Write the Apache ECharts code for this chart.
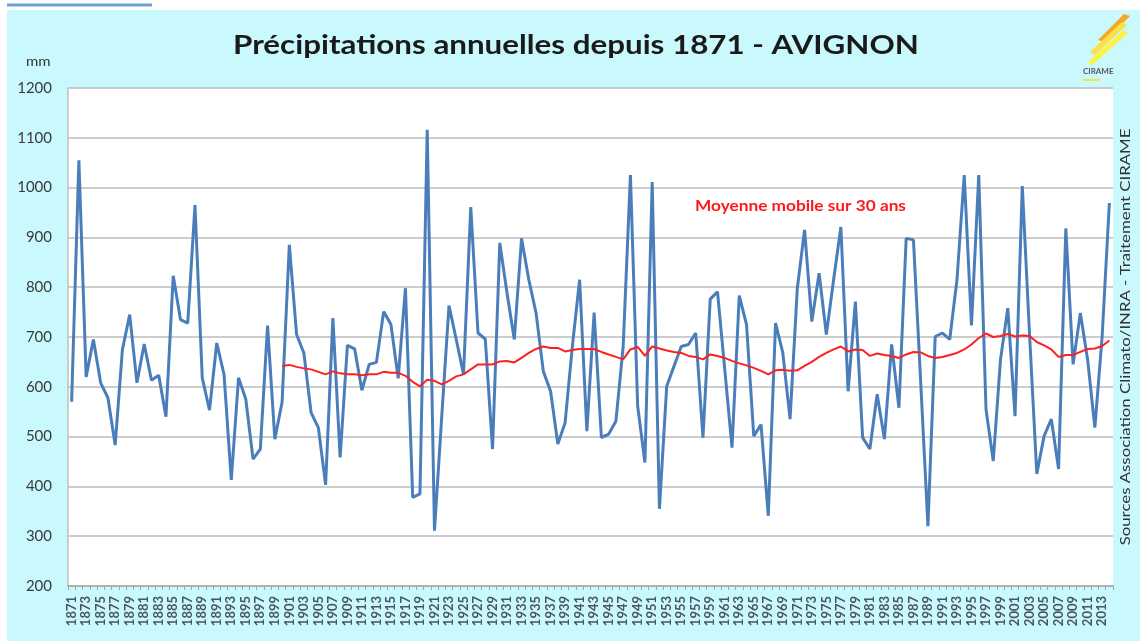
<!DOCTYPE html>
<html>
<head>
<meta charset="utf-8">
<title>Précipitations annuelles depuis 1871 - AVIGNON</title>
<script src="https://cdn.jsdelivr.net/npm/echarts@6/dist/echarts.min.js"></script>
<style>
  html, body { margin: 0; padding: 0; background: #fff; }
  #chart { width: 1140px; height: 641px; }
</style>
</head>
<body>
<div id="chart"></div>
<script>
// annual rainfall, Avignon, mm (1871 -> 2014)
const firstYear = 1871
const rainfall = [
  570, 1055, 620, 695, 608, 578, 483, 675, 745, 608,
  686, 613, 623, 540, 823, 735, 728, 965, 618, 553,
  688, 625, 413, 618, 575, 455, 475, 723, 495, 569,
  885, 705, 668, 548, 518, 403, 738, 458, 683, 676,
  593, 645, 649, 751, 725, 617, 798, 378, 385, 1116,
  311, 540, 763, 695, 625, 961, 708, 696, 475, 889,
  788, 695, 898, 815, 748, 631, 591, 485, 528, 681,
  815, 511, 749, 498, 505, 531, 680, 1025, 561, 448,
  1011, 355, 601, 641, 681, 685, 708, 498, 776, 791,
  635, 478, 783, 725, 501, 524, 341, 728, 668, 535,
  798, 915, 731, 828, 705, 815, 921, 591, 771, 498,
  475, 585, 495, 685, 558, 898, 895, 610, 320, 701,
  708, 695, 815, 1025, 723, 1025, 555, 451, 655, 758,
  541, 1003, 705, 425, 501, 535, 435, 918, 645, 748,
  655, 518, 700, 969
]
// 30-year moving average, starts in 1900
const movingAvgStart = 1900
const movingAvg = [
  642, 644, 640, 637, 635, 630, 625, 631, 627, 625,
  625, 623, 625, 625, 630, 628, 628, 622, 610, 601,
  614, 612, 605, 612, 621, 625, 635, 645, 645, 645,
  651, 652, 649, 658, 668, 676, 681, 678, 678, 671,
  674, 676, 676, 676, 670, 665, 660, 655, 675, 680,
  662, 681, 677, 673, 670, 668, 662, 660, 655, 665,
  662, 658, 652, 647, 643, 638, 632, 625, 633, 634,
  632, 633, 642, 650, 660, 668, 675, 681, 671, 675,
  674, 662, 667, 664, 662, 658, 665, 670, 669, 662,
  658, 660, 664, 668, 675, 685, 698, 707, 700, 702,
  706, 701, 703, 702, 690, 683, 675, 660, 664, 664,
  670, 676, 677, 682, 693
]
const yTicks = {min: 200, max: 1200, step: 100}

const years = rainfall.map((v, i) => String(firstYear + i))
const avgData = years.map(y => {
    const k = Number(y) - movingAvgStart
    return k >= 0 && k < movingAvg.length ? movingAvg[k] : null
})

const font = 'Lato, "Open Sans", sans-serif'
const myChart = echarts.init(document.getElementById('chart'))
const option = {
    backgroundColor: '#fff',
    animation: false,
    textStyle: {fontFamily: font},
    graphic: [
        {type: 'rect', z: -10, shape: {x: 7, y: 10, width: 1133, height: 631}, style: {fill: '#c9f9fd'}},
        {type: 'line', shape: {x1: 7, y1: 5, x2: 152, y2: 5}, style: {stroke: '#6c9fd6', lineWidth: 3}},
        {type: 'text', x: 233, y: 32, scaleX: 1.16, style: {text: 'Précipitations annuelles depuis 1871 - AVIGNON', font: 'bold 27px ' + font, fill: '#1a1a1a'}},
        {type: 'text', x: 26, y: 55, scaleX: 1.15, style: {text: 'mm', font: '13px ' + font, fill: '#333'}},
        {type: 'text', x: 695, y: 199, z: 20, scaleX: 1.15, style: {text: 'Moyenne mobile sur 30 ans', font: 'bold 15px ' + font, fill: '#ff1a1a'}},
        {type: 'text', x: 1125, y: 337, rotation: Math.PI / 2, scaleX: 1.2, style: {text: 'Sources Association Climato/INRA - Traitement CIRAME', font: '14px ' + font, fill: '#333', align: 'center', verticalAlign: 'middle'}},
        // CIRAME logo
        {type: 'polygon', shape: {points: [[1098, 40], [1124, 14], [1130, 16], [1104, 42]]}, style: {fill: '#f7a823'}},
        {type: 'polygon', shape: {points: [[1090, 52], [1122, 22], [1127, 25], [1095, 55]]}, style: {fill: '#fbe04a'}},
        {type: 'polygon', shape: {points: [[1088, 62], [1124, 30], [1128, 33], [1092, 65]]}, style: {fill: '#fff23f'}},
        {type: 'text', x: 1083, y: 67, style: {text: 'CIRAME', font: 'bold 8px ' + font, fill: '#555'}},
        {type: 'line', shape: {x1: 1083, y1: 80, x2: 1100, y2: 80}, style: {stroke: '#f2e640', lineWidth: 2}}
    ],
    grid: {
        left: 68,
        right: 27,
        top: 88,
        bottom: 55,
        show: true,
        backgroundColor: '#fff',
        borderWidth: 0
    },
    xAxis: {
        type: 'category',
        boundaryGap: true,
        data: years,
        axisLine: {lineStyle: {color: '#a6a6a6', width: 1.5}},
        axisTick: {show: true, interval: 0, length: 4, lineStyle: {color: '#a6a6a6'}},
        axisLabel: {
            interval: 1,
            rotate: 90,
            fontSize: 13,
            fontWeight: 'bold',
            color: '#4a5560',
            margin: 10
        },
        splitLine: {show: false}
    },
    yAxis: {
        type: 'value',
        min: yTicks.min,
        max: yTicks.max,
        interval: yTicks.step,
        axisLine: {show: true, lineStyle: {color: '#bfbfbf', width: 1.5}},
        axisTick: {show: false},
        axisLabel: {fontSize: 15, color: '#3a3a3a', margin: 16, formatter: v => String(v)},
        splitLine: {lineStyle: {color: '#bcbcbc', width: 1.5}}
    },
    series: [
        {
            name: 'Précipitations',
            type: 'line',
            data: rainfall,
            symbol: 'none',
            lineStyle: {color: '#4a7ebb', width: 3},
            z: 3
        },
        {
            name: 'Moyenne mobile sur 30 ans',
            type: 'line',
            data: avgData,
            symbol: 'none',
            connectNulls: false,
            lineStyle: {color: '#ff1f1f', width: 2},
            z: 4
        }
    ]
}
myChart.setOption(option)
</script>
</body>
</html>
